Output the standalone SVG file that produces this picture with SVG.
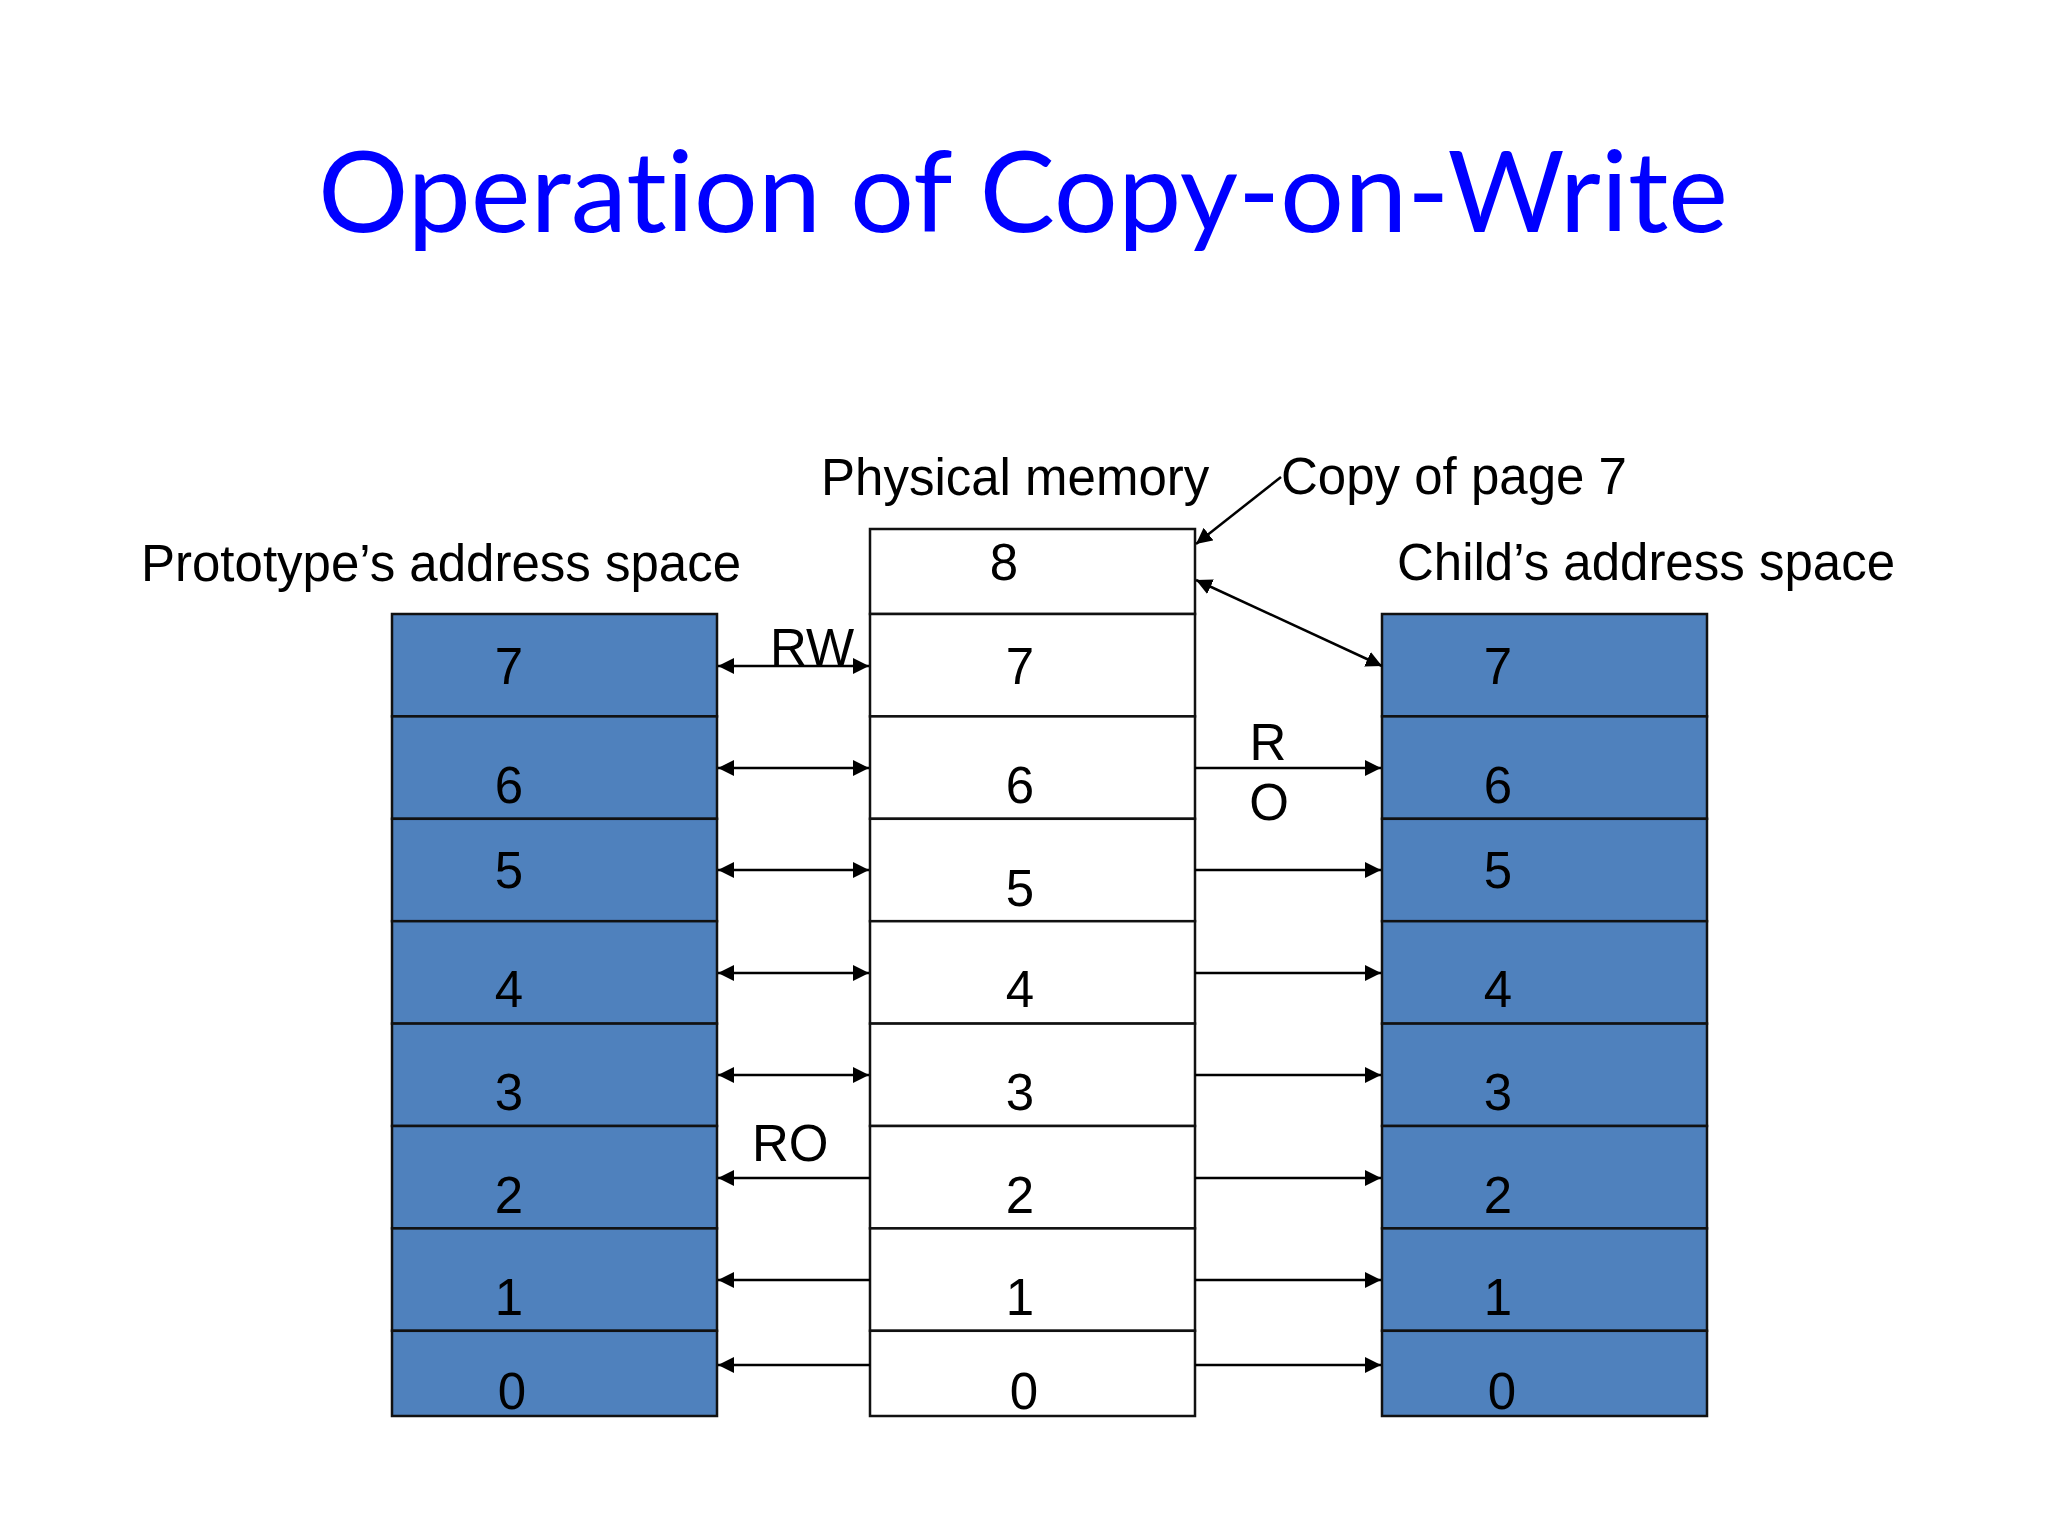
<svg xmlns="http://www.w3.org/2000/svg" width="2048" height="1536" viewBox="0 0 2048 1536">
<style>
.t{font-family:"Liberation Sans",Arial,sans-serif;font-size:51px;fill:#000}
.n{font-family:"Liberation Sans",Arial,sans-serif;font-size:51px;fill:#000;text-anchor:middle}
.blue{fill:#4F81BD;stroke:#111;stroke-width:2.5}
.white{fill:#fff;stroke:#111;stroke-width:2.5}
.c{stroke:#000;stroke-width:2.5;fill:none}
</style>
<defs>
<marker id="ah" viewBox="0 0 16 16" refX="16" refY="8" markerWidth="16" markerHeight="16" orient="auto-start-reverse" markerUnits="userSpaceOnUse">
<path d="M0,0 L16,8 L0,16 z" fill="#000"/>
</marker>
</defs>
<rect width="2048" height="1536" fill="#fff"/>
<text id="title" x="318" y="232" font-family="Lato,'Open Sans',sans-serif" font-size="112" fill="#0000FF" style="font-variant-ligatures:none;font-feature-settings:'liga' 0" textLength="1410" lengthAdjust="spacingAndGlyphs">Operation of Copy-on-Write</text>

<text class="t" x="141" y="581">Prototype’s address space</text>
<text class="t" x="821" y="495">Physical memory</text>
<text class="t" x="1281" y="494">Copy of page 7</text>
<text class="t" x="1397" y="580">Child’s address space</text>

<g id="prototype">
<g id="proto-7"><rect class="blue" x="392" y="614" width="325" height="102.4"/><text class="n" x="509" y="684">7</text></g>
<g id="proto-6"><rect class="blue" x="392" y="716.4" width="325" height="102.4"/><text class="n" x="509" y="803">6</text></g>
<g id="proto-5"><rect class="blue" x="392" y="818.8" width="325" height="102.4"/><text class="n" x="509" y="888">5</text></g>
<g id="proto-4"><rect class="blue" x="392" y="921.2" width="325" height="102.4"/><text class="n" x="509" y="1007">4</text></g>
<g id="proto-3"><rect class="blue" x="392" y="1023.6" width="325" height="102.4"/><text class="n" x="509" y="1110">3</text></g>
<g id="proto-2"><rect class="blue" x="392" y="1126" width="325" height="102.4"/><text class="n" x="509" y="1213">2</text></g>
<g id="proto-1"><rect class="blue" x="392" y="1228.4" width="325" height="102.4"/><text class="n" x="509" y="1315">1</text></g>
<g id="proto-0"><rect class="blue" x="392" y="1330.8" width="325" height="85.2"/><text class="n" x="512" y="1409">0</text></g>
</g>

<g id="physical">
<g id="phys-8"><rect class="white" x="870" y="529" width="325" height="85"/><text class="n" x="1004" y="580">8</text></g>
<g id="phys-7"><rect class="white" x="870" y="614" width="325" height="102.4"/><text class="n" x="1020" y="684">7</text></g>
<g id="phys-6"><rect class="white" x="870" y="716.4" width="325" height="102.4"/><text class="n" x="1020" y="803">6</text></g>
<g id="phys-5"><rect class="white" x="870" y="818.8" width="325" height="102.4"/><text class="n" x="1020" y="906">5</text></g>
<g id="phys-4"><rect class="white" x="870" y="921.2" width="325" height="102.4"/><text class="n" x="1020" y="1007">4</text></g>
<g id="phys-3"><rect class="white" x="870" y="1023.6" width="325" height="102.4"/><text class="n" x="1020" y="1110">3</text></g>
<g id="phys-2"><rect class="white" x="870" y="1126" width="325" height="102.4"/><text class="n" x="1020" y="1213">2</text></g>
<g id="phys-1"><rect class="white" x="870" y="1228.4" width="325" height="102.4"/><text class="n" x="1020" y="1315">1</text></g>
<g id="phys-0"><rect class="white" x="870" y="1330.8" width="325" height="85.2"/><text class="n" x="1024" y="1409">0</text></g>
</g>

<g id="child">
<g id="child-7"><rect class="blue" x="1382" y="614" width="325" height="102.4"/><text class="n" x="1498" y="684">7</text></g>
<g id="child-6"><rect class="blue" x="1382" y="716.4" width="325" height="102.4"/><text class="n" x="1498" y="803">6</text></g>
<g id="child-5"><rect class="blue" x="1382" y="818.8" width="325" height="102.4"/><text class="n" x="1498" y="888">5</text></g>
<g id="child-4"><rect class="blue" x="1382" y="921.2" width="325" height="102.4"/><text class="n" x="1498" y="1007">4</text></g>
<g id="child-3"><rect class="blue" x="1382" y="1023.6" width="325" height="102.4"/><text class="n" x="1498" y="1110">3</text></g>
<g id="child-2"><rect class="blue" x="1382" y="1126" width="325" height="102.4"/><text class="n" x="1498" y="1213">2</text></g>
<g id="child-1"><rect class="blue" x="1382" y="1228.4" width="325" height="102.4"/><text class="n" x="1498" y="1315">1</text></g>
<g id="child-0"><rect class="blue" x="1382" y="1330.8" width="325" height="85.2"/><text class="n" x="1502" y="1409">0</text></g>
</g>

<g id="connectors">
<line class="c" x1="718" y1="666" x2="869" y2="666" marker-start="url(#ah)" marker-end="url(#ah)"/>
<line class="c" x1="718" y1="768" x2="869" y2="768" marker-start="url(#ah)" marker-end="url(#ah)"/>
<line class="c" x1="718" y1="870" x2="869" y2="870" marker-start="url(#ah)" marker-end="url(#ah)"/>
<line class="c" x1="718" y1="973" x2="869" y2="973" marker-start="url(#ah)" marker-end="url(#ah)"/>
<line class="c" x1="718" y1="1075" x2="869" y2="1075" marker-start="url(#ah)" marker-end="url(#ah)"/>
<line class="c" x1="870" y1="1178" x2="718" y2="1178" marker-end="url(#ah)"/>
<line class="c" x1="870" y1="1280" x2="718" y2="1280" marker-end="url(#ah)"/>
<line class="c" x1="870" y1="1365" x2="718" y2="1365" marker-end="url(#ah)"/>

<line class="c" x1="1195" y1="768" x2="1381" y2="768" marker-end="url(#ah)"/>
<line class="c" x1="1195" y1="870" x2="1381" y2="870" marker-end="url(#ah)"/>
<line class="c" x1="1195" y1="973" x2="1381" y2="973" marker-end="url(#ah)"/>
<line class="c" x1="1195" y1="1075" x2="1381" y2="1075" marker-end="url(#ah)"/>
<line class="c" x1="1195" y1="1178" x2="1381" y2="1178" marker-end="url(#ah)"/>
<line class="c" x1="1195" y1="1280" x2="1381" y2="1280" marker-end="url(#ah)"/>
<line class="c" x1="1195" y1="1365" x2="1381" y2="1365" marker-end="url(#ah)"/>

<line class="c" x1="1196" y1="580" x2="1382" y2="666" marker-start="url(#ah)" marker-end="url(#ah)"/>
<line class="c" x1="1281" y1="477" x2="1196" y2="544" marker-end="url(#ah)"/>

<text class="t" x="770" y="665">RW</text>
<text class="t" x="752" y="1161">RO</text>
<text class="n" x="1268" y="760">R</text>
<text class="n" x="1269" y="820">O</text>
</g>
</svg>
